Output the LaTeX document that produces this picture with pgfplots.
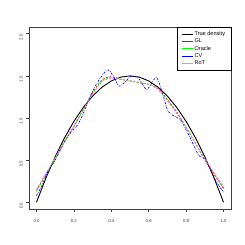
\documentclass[border=0pt]{standalone}
\usepackage{pgfplots}
\pgfplotsset{compat=1.18}
\usepackage{fontspec}
\setmainfont{Liberation Sans}
\definecolor{rviolet}{RGB}{238,130,238}
\begin{document}
\begin{tikzpicture}
\path[use as bounding box] (0,0) rectangle (245bp,245bp);
\begin{axis}[
  at={(29bp,36bp)}, anchor=south west,
  width=202bp, height=182bp, scale only axis,
  xmin=-0.04, xmax=1.04, ymin=-0.08, ymax=2.08,
  axis line style={draw=black!75, line width=0.5bp},
  xtick={0,0.2,...,1.0}, ytick={0,0.5,...,2.0},
  xtick pos=bottom, ytick pos=left,
  tick align=outside, major tick length=2.7bp,
  tick style={draw=black!75, line width=0.5bp},
  /pgf/number format/assume math mode=true,
  /pgf/number format/.cd, fixed, fixed zerofill, precision=1, /pgfplots/.cd,
  ticklabel style={font=\fontsize{4.3}{5}\selectfont, text=black!80},
  xticklabel style={yshift=-4.5bp},
  yticklabel style={rotate=90, anchor=south, xshift=-3.5bp},
  legend style={at={(1,1)}, anchor=north east, draw=black, line width=0.5bp,
    font=\fontsize{5.6}{6.67}\selectfont, inner xsep=4.5bp, inner ysep=3bp,
    row sep=-0.6bp, nodes={inner sep=1.2bp}},
  legend cell align=left,
  legend image code/.code={\draw[#1, solid, line width=0.8bp] (0bp,0bp) -- (10.7bp,0bp);},
  clip=true,
]
\addplot[draw=black, line width=0.9bp] coordinates {
(0,0) (0.05,0.285) (0.1,0.54) (0.15,0.765) (0.2,0.96) (0.25,1.125) (0.3,1.26)
(0.35,1.365) (0.4,1.44) (0.45,1.485) (0.5,1.5) (0.55,1.485) (0.6,1.44)
(0.65,1.365) (0.7,1.26) (0.75,1.125) (0.8,0.96) (0.85,0.765) (0.9,0.54)
(0.95,0.285) (1,0)};
\addlegendentry{True density}
\addplot[draw=red, line width=0.7bp, dash pattern=on 2bp off 1.5bp, smooth] coordinates {
(0,0.14) (0.05,0.33) (0.1,0.52) (0.15,0.72) (0.2,0.9) (0.25,1.1) (0.3,1.3)
(0.35,1.45) (0.4,1.49) (0.45,1.46) (0.5,1.44) (0.55,1.42) (0.6,1.40)
(0.65,1.35) (0.7,1.22) (0.75,1.07) (0.8,0.89) (0.85,0.70) (0.9,0.50)
(0.95,0.33) (1,0.17)};
\addlegendentry{GL}
\addplot[draw=green, line width=0.7bp, dash pattern=on 2bp off 1.5bp, smooth] coordinates {
(0,0.13) (0.05,0.32) (0.1,0.52) (0.15,0.72) (0.2,0.91) (0.25,1.1) (0.3,1.29)
(0.35,1.44) (0.4,1.48) (0.45,1.46) (0.5,1.44) (0.55,1.42) (0.6,1.40)
(0.65,1.34) (0.7,1.21) (0.75,1.07) (0.8,0.89) (0.85,0.70) (0.9,0.51)
(0.95,0.34) (1,0.16)};
\addlegendentry{Oracle}
\addplot[draw=blue, line width=0.7bp, dash pattern=on 2bp off 1.2bp on 0.6bp off 1.2bp, smooth] coordinates {
(0,0.08) (0.03,0.2) (0.06,0.36) (0.1,0.5) (0.15,0.72) (0.18,0.82) (0.22,0.92)
(0.25,1.05) (0.28,1.22) (0.31,1.36) (0.34,1.47) (0.38,1.57) (0.41,1.5)
(0.44,1.38) (0.47,1.42) (0.51,1.5) (0.55,1.46) (0.59,1.34) (0.64,1.48)
(0.67,1.32) (0.7,1.1) (0.73,1.03) (0.77,0.98) (0.8,0.86) (0.84,0.68)
(0.87,0.55) (0.9,0.52) (0.93,0.4) (0.96,0.25) (1,0.12)};
\addlegendentry{CV}
\addplot[draw=rviolet, line width=0.7bp, dash pattern=on 2bp off 1.5bp, smooth] coordinates {
(0,0.16) (0.05,0.34) (0.1,0.53) (0.15,0.72) (0.2,0.9) (0.25,1.09) (0.3,1.28)
(0.35,1.43) (0.4,1.47) (0.45,1.46) (0.5,1.44) (0.55,1.42) (0.6,1.40)
(0.65,1.34) (0.7,1.2) (0.75,1.05) (0.8,0.88) (0.85,0.70) (0.9,0.52)
(0.95,0.35) (1,0.19)};
\addlegendentry{RoT}
\end{axis}
\end{tikzpicture}
\end{document}
